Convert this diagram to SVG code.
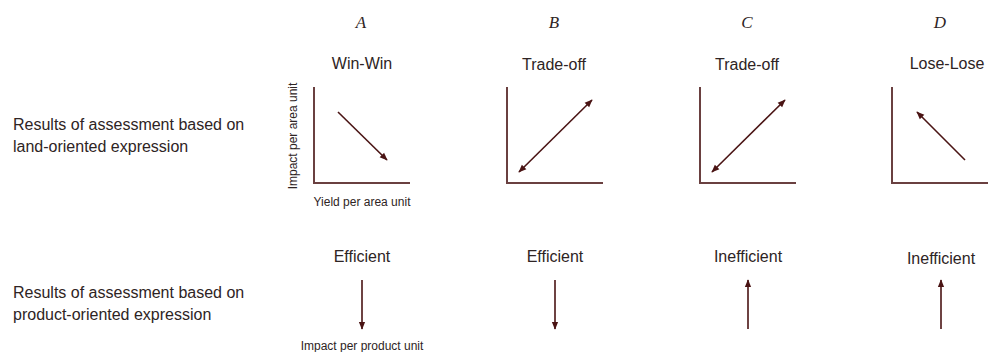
<svg xmlns="http://www.w3.org/2000/svg" width="991" height="352" viewBox="0 0 991 352">
<style>
.t{font-family:"Liberation Sans",Arial,sans-serif;font-size:16px;fill:#2e2424}
.s{font-family:"Liberation Sans",Arial,sans-serif;font-size:12px;fill:#2e2424}
.L{font-family:"Liberation Serif","Times New Roman",serif;font-size:17px;font-style:italic;fill:#2e2424}
.ax{stroke:#6a4040;stroke-width:2;fill:none}
.ar{stroke:#4a1414;stroke-width:1.6;fill:none}
.m{text-anchor:middle}
</style>
<defs>
<marker id="h" markerUnits="userSpaceOnUse" markerWidth="8" markerHeight="8" viewBox="0 0 10 10" refX="9" refY="5" orient="auto-start-reverse">
<path d="M0,1 L10,5 L0,9 z" fill="#4a1414"/>
</marker>
</defs>
<g id="rowlabels">
<text class="t" x="13" y="130">Results of assessment based on</text>
<text class="t" x="13" y="152">land-oriented expression</text>
<text class="t" x="13" y="298">Results of assessment based on</text>
<text class="t" x="13" y="320">product-oriented expression</text>
</g>
<g id="panelA">
<text class="L m" x="361" y="28">A</text>
<text class="t m" x="362" y="69">Win-Win</text>
<path class="ax" d="M314,87 V183 H410"/>
<text class="s m" transform="translate(297,136) rotate(-90)">Impact per area unit</text>
<text class="s m" x="362" y="206">Yield per area unit</text>
</g>
<g id="panelB">
<text class="L m" x="554" y="28">B</text>
<text class="t m" x="554" y="70">Trade-off</text>
<path class="ax" d="M507,87 V183 H603"/>
</g>
<g id="panelC">
<text class="L m" x="747" y="28">C</text>
<text class="t m" x="747" y="70">Trade-off</text>
<path class="ax" d="M700,87 V183 H796"/>
</g>
<g id="panelD">
<text class="L m" x="940" y="28">D</text>
<text class="t m" x="947" y="69">Lose-Lose</text>
<path class="ax" d="M892,87 V183 H988"/>
</g>
<g id="bottomA">
<text class="t m" x="362" y="262">Efficient</text>
<text class="s m" x="362" y="350">Impact per product unit</text>
</g>
<g id="bottomB">
<text class="t m" x="555" y="262">Efficient</text>
</g>
<g id="bottomC">
<text class="t m" x="748" y="262">Inefficient</text>
</g>
<g id="bottomD">
<text class="t m" x="941" y="264">Inefficient</text>
</g>
<g id="connectors">
<line class="ar" x1="338" y1="112" x2="387" y2="160" marker-end="url(#h)"/>
<line class="ar" x1="519" y1="172" x2="592" y2="100" marker-start="url(#h)" marker-end="url(#h)"/>
<line class="ar" x1="712" y1="172" x2="785" y2="100" marker-start="url(#h)" marker-end="url(#h)"/>
<line class="ar" x1="965" y1="160" x2="917" y2="112" marker-end="url(#h)"/>
<line class="ar" x1="362" y1="280" x2="362" y2="329" marker-end="url(#h)"/>
<line class="ar" x1="555" y1="280" x2="555" y2="329" marker-end="url(#h)"/>
<line class="ar" x1="748" y1="329" x2="748" y2="280" marker-end="url(#h)"/>
<line class="ar" x1="941" y1="329" x2="941" y2="280" marker-end="url(#h)"/>
</g>
</svg>
